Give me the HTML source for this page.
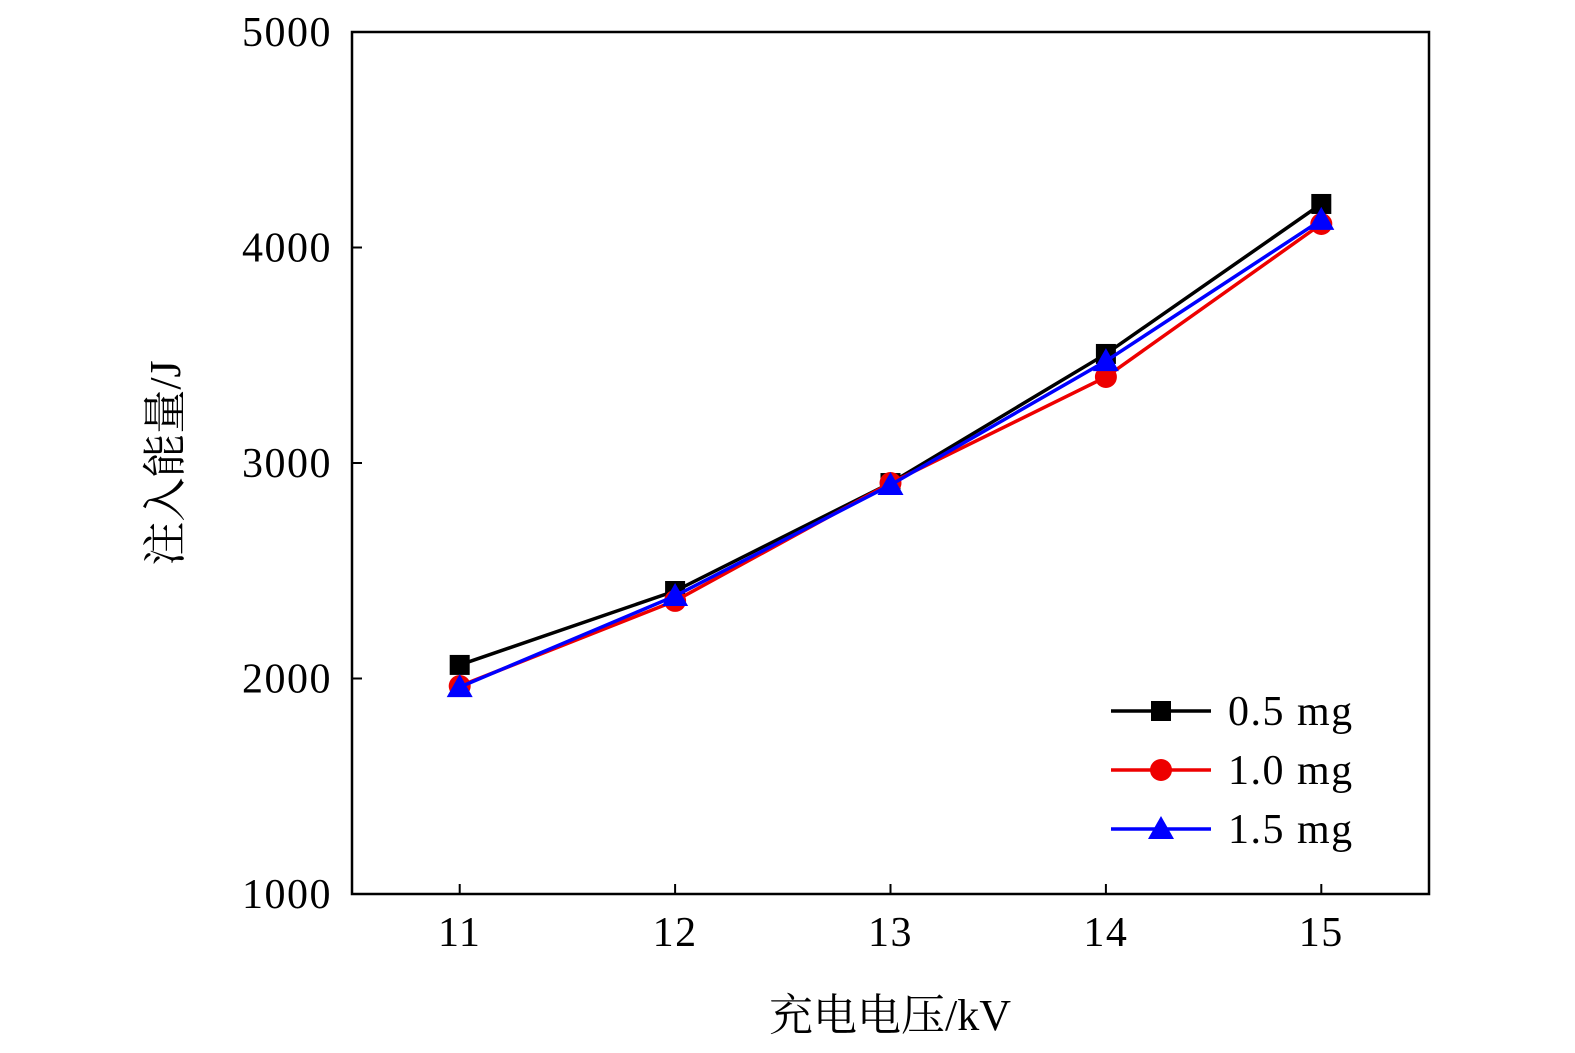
<!DOCTYPE html>
<html><head><meta charset="utf-8"><style>
html,body{margin:0;padding:0;background:#fff;}
svg{display:block;}
text{font-family:"Liberation Serif","Noto Serif CJK SC",serif;fill:#000;}
</style></head><body>
<svg id="chart" width="1575" height="1053" viewBox="0 0 1575 1053"></svg>
<script>
const categories=[11,12,13,14,15];
const seriesNames=["0.5 mg","1.0 mg","1.5 mg"];
const series05=[2063,2406,2907,3506,4202];
const series10=[1965,2360,2907,3399,4109];
const series15=[1960,2383,2898,3473,4128];
const yTicks=[1000,2000,3000,4000,5000];
const xTicks=[11,12,13,14,15];
const NS="http://www.w3.org/2000/svg";
const svg=document.getElementById('chart');
const L=352,R=1429,T=32,B=894;
const xMin=10.5,xMax=15.5,yMin=1000,yMax=5000;
function sx(v){return L+(v-xMin)/(xMax-xMin)*(R-L);}
function sy(v){return B-(v-yMin)/(yMax-yMin)*(B-T);}
function mk(tag,attrs,parent){const e=document.createElementNS(NS,tag);for(const k in attrs)e.setAttribute(k,attrs[k]);(parent||svg).appendChild(e);return e;}
const frame=mk('rect',{x:L,y:T,width:R-L,height:B-T,fill:'none',stroke:'#000','stroke-width':2.5});


yTicks.forEach(v=>{
 const t=mk('line',{x1:L,x2:L+10,y1:sy(v),y2:sy(v),stroke:'#000','stroke-width':2});
 
 
 const lb=mk('text',{x:L-20,y:sy(v)+14,'text-anchor':'end','font-size':42,'letter-spacing':1.5});
 lb.textContent=v;
 
 
});
xTicks.forEach(v=>{
 const t=mk('line',{x1:sx(v),x2:sx(v),y1:B,y2:B-10,stroke:'#000','stroke-width':2});
 
 
 const lb=mk('text',{x:sx(v),y:B+52,'text-anchor':'middle','font-size':42,'letter-spacing':1.5});
 lb.textContent=v;
 
 
});
const xt=mk('text',{x:890,y:1030,'text-anchor':'middle','font-size':44});
xt.textContent='充电电压/kV';


const yt=mk('text',{x:0,y:0,'text-anchor':'middle','font-size':44,transform:'translate(180,463) rotate(-90)'});
yt.textContent='注入能量/J';


function marker(type,x,y,color,parent){
 let m;
 if(type==='square')m=mk('rect',{x:x-10,y:y-10,width:20,height:20,fill:color},parent);
 else if(type==='circle')m=mk('circle',{cx:x,cy:y,r:11,fill:color},parent);
 else m=mk('polygon',{points:`${x},${y-13} ${x+13},${y+10} ${x-13},${y+10}`,fill:color},parent);
 return m;
}
const all=[[series05,'#000','square'],[series10,'#e00','circle'],[series15,'#00f','triangle']];
all.forEach((s,i)=>{
 const g=mk('g',{});
 
 
 const pl=mk('polyline',{points:s[0].map((v,j)=>sx(categories[j])+','+sy(v)).join(' '),fill:'none',stroke:s[1],'stroke-width':3.5},g);
 
 
 s[0].forEach((v,j)=>{
  const m=marker(s[2],sx(categories[j]),sy(v),s[1],g);
  
  
 });
 const ly=711+i*59;
 const le=mk('g',{});
 
 
 mk('line',{x1:1111,x2:1211,y1:ly,y2:ly,stroke:s[1],'stroke-width':3.5},le);
 marker(s[2],1161,ly,s[1],le);
 const lt=mk('text',{x:1228,y:ly+14,'font-size':42,'letter-spacing':1.5},le);
 lt.textContent=seriesNames[i];
});
</script>
</body></html>
